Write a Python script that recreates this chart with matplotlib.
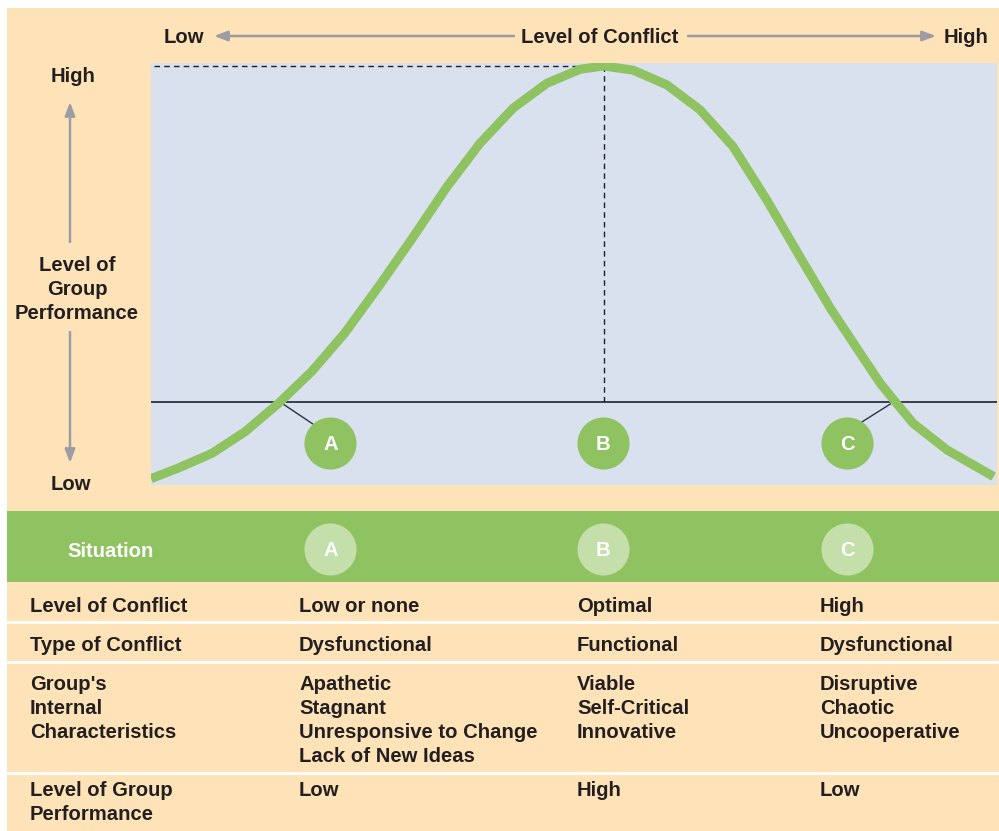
"""
Conflict vs group performance diagram (inverted-U) with situation table.
"""

import matplotlib
matplotlib.use('Agg')
import matplotlib.pyplot as plt
from matplotlib.patches import Rectangle

# ------------------------------------------------------------
# Data
# ------------------------------------------------------------
conflict = [0.0, 3.2, 7.2, 11.1, 15.1, 19.0, 22.9, 26.9, 31.0, 35.0, 38.9,
            42.8, 46.8, 50.7, 53.5, 57.0, 61.0, 64.9, 68.8, 72.8, 76.7,
            80.3, 84.2, 86.2, 88.1, 90.1, 94.1, 99.6]
performance = [1.5, 4.0, 7.5, 12.6, 19.4, 26.9, 36.0, 47.0, 58.8, 70.7, 81.0,
               89.3, 95.2, 98.5, 99.3, 98.3, 94.8, 88.9, 80.2, 67.5, 54.1,
               41.9, 30.1, 24.1, 19.4, 14.6, 8.3, 2.0]
baseline = 19.6
peak_x = 53.5
peak_y = 99.3

situations = ["A", "B", "C"]
situation_x = [21.2, 53.4, 82.3]
situation_y = 10.0

row_labels = [["Level of Conflict"], ["Type of Conflict"],
              ["Group's", "Internal", "Characteristics"],
              ["Level of Group", "Performance"]]
col_a = [["Low or none"], ["Dysfunctional"],
         ["Apathetic", "Stagnant", "Unresponsive to Change", "Lack of New Ideas"],
         ["Low"]]
col_b = [["Optimal"], ["Functional"],
         ["Viable", "Self-Critical", "Innovative"], ["High"]]
col_c = [["High"], ["Dysfunctional"],
         ["Disruptive", "Chaotic", "Uncooperative"], ["Low"]]

PEACH = "#fee3b9"
BLUE = "#d9e0ee"
GREEN = "#8fc261"
LIGHT = "#c5dfab"
GRAY = "#9b9da3"
INK = "#231f20"
NAVY = "#2a3342"

plt.rcParams['font.family'] = ['Liberation Sans', 'DejaVu Sans']
FS = 14.6

W, H = 999, 831
fig = plt.figure(figsize=(W / 100, H / 100), dpi=100, facecolor="white")

# background canvas in pixel coordinates
bg = fig.add_axes([0, 0, 1, 1])
bg.set_xlim(0, W)
bg.set_ylim(H, 0)
bg.set_axis_off()
bg.add_patch(Rectangle((7, 8), W - 7, H - 8, color=PEACH, lw=0))
bg.add_patch(Rectangle((7, 511), W - 7, 71, color=GREEN, lw=0))
for y in [622, 662, 773]:
    bg.plot([7, W], [y, y], color="white", lw=2)

txt = dict(color=INK, fontsize=FS, fontweight="bold")

# top axis label with arrows
bg.text(184, 43, "Low", ha="center", va="baseline", **txt)
bg.text(600, 43, "Level of Conflict", ha="center", va="baseline", **txt)
bg.text(966, 43, "High", ha="center", va="baseline", **txt)
arr = dict(arrowstyle="-|>,head_length=0.8,head_width=0.3", color=GRAY, lw=1.8,
           shrinkA=0, shrinkB=0)
bg.annotate("", xy=(214, 36), xytext=(514, 36), arrowprops=arr)
bg.annotate("", xy=(936, 36), xytext=(688, 36), arrowprops=arr)

# left axis label with arrows
bg.text(73, 82, "High", ha="center", va="baseline", **txt)
for i, line in enumerate(["Level of", "Group", "Performance"]):
    bg.text(77, 271 + 24 * i, line, ha="center", va="baseline", **txt)
bg.text(71, 490, "Low", ha="center", va="baseline", **txt)
bg.annotate("", xy=(70, 102), xytext=(70, 242), arrowprops=arr)
bg.annotate("", xy=(70, 463), xytext=(70, 332), arrowprops=arr)

# ------------------------------------------------------------
# Curve panel
# ------------------------------------------------------------
ax = fig.add_axes([151 / W, 1 - 485 / H, 846 / W, 422 / H])
ax.set_facecolor(BLUE)
ax.set_xlim(0, 100)
ax.set_ylim(0, 100)
for s in ax.spines.values():
    s.set_visible(False)
ax.set_xticks([])
ax.set_yticks([])

ax.axhline(baseline, color=NAVY, lw=1.3, zorder=1)
ax.plot([0.4, peak_x], [peak_y, peak_y], color=INK, lw=1, ls=(0, (4, 3)), zorder=1)
ax.plot([peak_x, peak_x], [baseline, peak_y], color=INK, lw=1, ls=(0, (4, 3)), zorder=1)
ax.plot(conflict, performance, color=GREEN, lw=6.5, solid_capstyle="butt",
        solid_joinstyle="round", zorder=3)

# leader lines from crossings to A and C
ax.plot([15.6, 19.1], [19.2, 14.5], color=NAVY, lw=1, zorder=2)
ax.plot([87.4, 84.0], [19.2, 14.9], color=NAVY, lw=1, zorder=2)

for lab, x in zip(situations, situation_x):
    ax.plot([x], [situation_y], "o", ms=37.5, color=GREEN, mec="none", zorder=4)
    ax.text(x, situation_y, lab, ha="center", va="center_baseline", color="white",
            fontsize=FS, fontweight="bold", zorder=5)

# ------------------------------------------------------------
# Situation table
# ------------------------------------------------------------
bg.text(67, 557, "Situation", ha="left", va="baseline", color="white",
        fontsize=FS, fontweight="bold")
for lab, x in zip(situations, situation_x):
    px = 151 + x / 100 * 846
    bg.plot([px], [549], "o", ms=37.5, color=LIGHT, mec="none")
    bg.text(px, 549, lab, ha="center", va="center_baseline", color="white",
            fontsize=FS, fontweight="bold")

row_base = [612, 651, 690, 796]
col_x = [30, 299, 577, 820]
for r in range(4):
    for cx, col in zip(col_x, [row_labels, col_a, col_b, col_c]):
        for j, line in enumerate(col[r]):
            bg.text(cx, row_base[r] + 24 * j, line, ha="left", va="baseline", **txt)

plt.savefig("out.png", dpi=100, facecolor="white")
plt.close()
